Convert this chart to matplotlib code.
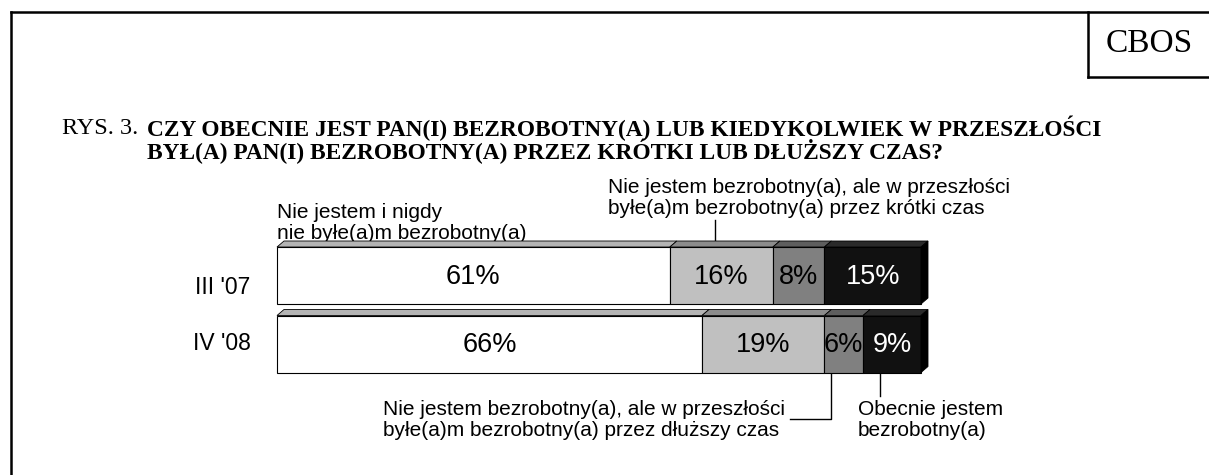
import matplotlib
matplotlib.use("Agg")
import matplotlib.pyplot as plt
import numpy as np

# ---- data ----
categories = ["III '07", "IV '08"]
never = [61, 66]            # Nie jestem i nigdy nie byłe(a)m bezrobotny(a)
short_past = [16, 19]       # ... przez krótki czas
long_past = [8, 6]          # ... przez dłuższy czas
current = [15, 9]           # Obecnie jestem bezrobotny(a)
series = [never, short_past, long_past, current]
value_labels = [[f"{v}%" for v in s] for s in series]

front_colors = ["#ffffff", "#c0c0c0", "#808080", "#111111"]
top_colors = ["#b4b4b4", "#8c8c8c", "#5e5e5e", "#2a2a2a"]
text_colors = ["black", "black", "black", "white"]

W, H = 1209, 475
fig = plt.figure(figsize=(W / 100, H / 100), dpi=100)

# overlay axes in pixel coordinates
ov = fig.add_axes([0, 0, 1, 1])
ov.set_xlim(0, W)
ov.set_ylim(H, 0)
ov.axis("off")

# frame
lw = 1.8
ov.plot([11, 11], [12, H + 5], color="black", lw=lw, clip_on=False)
ov.plot([11, W + 5], [12, 12], color="black", lw=lw, clip_on=False)
ov.plot([1088, 1088], [12, 77], color="black", lw=lw)
ov.plot([1088, W + 5], [77, 77], color="black", lw=lw, clip_on=False)
ov.text(1149, 44, "CBOS", family="Liberation Serif", fontsize=24,
        ha="center", va="center")

# title
ov.text(62, 128, "RYS. 3.", family="Liberation Serif", fontsize=17.5,
        ha="left", va="center")
ov.text(147, 128, "CZY OBECNIE JEST PAN(I) BEZROBOTNY(A) LUB KIEDYKOLWIEK W PRZESZŁOŚCI",
        family="Liberation Serif", fontweight="bold", fontsize=16.8,
        ha="left", va="center")
ov.text(147, 151, "BYŁ(A) PAN(I) BEZROBOTNY(A) PRZEZ KRÓTKI LUB DŁUŻSZY CZAS?",
        family="Liberation Serif", fontweight="bold", fontsize=16.8,
        ha="left", va="center")

# bar axes
x0_px, x1_px = 277, 921
yc0, yc1 = 275.5, 344.0
step = yc1 - yc0
top_px = yc0 - step / 2
bot_px = yc1 + step / 2
ax = fig.add_axes([x0_px / W, (H - bot_px) / H, (x1_px - x0_px) / W, (bot_px - top_px) / H])
ax.set_xlim(0, 100)
ax.set_ylim(1.5, -0.5)
ax.axis("off")

ypos = np.arange(len(categories))
bar_h = 57 / step
dx = 7 / (x1_px - x0_px) * 100
dy = 6 / step

left = np.zeros(len(categories))
for si, s in enumerate(series):
    vals = np.array(s, dtype=float)
    ax.barh(ypos, vals, left=left, height=bar_h, color=front_colors[si],
            edgecolor="black", linewidth=0.8, clip_on=False)
    for i in range(len(categories)):
        a, b = left[i], left[i] + vals[i]
        yt = ypos[i] - bar_h / 2
        ax.fill([a, b, b + dx, a + dx], [yt, yt, yt - dy, yt - dy],
                facecolor=top_colors[si], edgecolor="black", linewidth=0.6,
                clip_on=False)
        ax.text((a + b) / 2, ypos[i] + 0.02, value_labels[si][i], ha="center",
                va="center", fontsize=19.5, color=text_colors[si],
                family="Liberation Sans")
    left = left + vals

# right side face
for i in range(len(categories)):
    r = left[i]
    yt = ypos[i] - bar_h / 2
    yb = ypos[i] + bar_h / 2
    ax.fill([r, r + dx, r + dx, r], [yt, yt - dy, yb - dy, yb],
            facecolor="#000000", edgecolor="black", linewidth=0.6, clip_on=False)

# category labels
label_offsets = [0.17, 0.0]
for i, c in enumerate(categories):
    ax.text(-8.5, ypos[i] + label_offsets[i], c, ha="center", va="center",
            fontsize=16.5, family="Liberation Sans")

# annotations (pixel coordinates)
afs = 15.0
ls = 1.17
ov.text(277, 223, "Nie jestem i nigdy\nnie byłe(a)m bezrobotny(a)", ha="left",
        va="center", fontsize=afs, family="Liberation Sans", linespacing=ls)
ov.plot([469, 469], [243, 268], color="black", lw=1)

ov.text(608, 198, "Nie jestem bezrobotny(a), ale w przeszłości\nbyłe(a)m bezrobotny(a) przez krótki czas",
        ha="left", va="center", fontsize=afs, family="Liberation Sans", linespacing=ls)
ov.plot([715, 715], [220, 244], color="black", lw=1)

ov.text(785, 420, "Nie jestem bezrobotny(a), ale w przeszłości\nbyłe(a)m bezrobotny(a) przez dłuższy czas",
        ha="right", va="center", multialignment="left", fontsize=afs,
        family="Liberation Sans", linespacing=ls)
ov.plot([790, 831, 831], [419, 419, 374], color="black", lw=1)

ov.text(858, 420, "Obecnie jestem\nbezrobotny(a)", ha="left", va="center",
        fontsize=afs, family="Liberation Sans", linespacing=ls)
ov.plot([880, 880], [374, 396], color="black", lw=1)

fig.savefig("out.png", dpi=100)
